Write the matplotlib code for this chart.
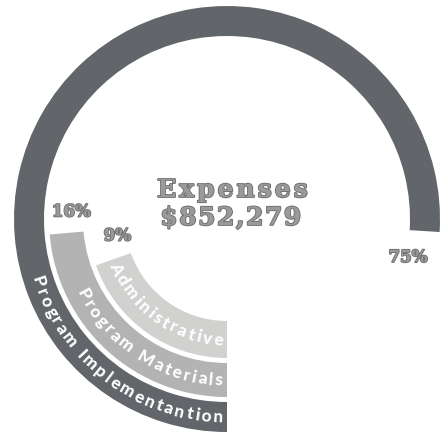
import numpy as np
import matplotlib
matplotlib.use("Agg")
import matplotlib.pyplot as plt
from matplotlib.font_manager import FontProperties, findfont, get_font
from matplotlib import patheffects as pe

# ---------------- data ----------------
categories = ["Program Implementantion", "Program Materials", "Administrative"]
shares = [75, 16, 9]
pct_labels = ["75%", "16%", "9%"]
title_text = "Expenses"
total_text = "$852,279"

# ---------------- design / layout ----------------
sweep_deg = [273.5, 85.0, 70.5]          # drawn sweep of each ring (infographic design)
ring_inner = [183, 144, 102]
ring_outer = [213, 178, 139]
ring_colors = ["#626569", "#b2b3b2", "#d1d1d0"]
label_dtheta = [8.5, 7.6, 10.7]
label_r = [185, 156, 111]

W, H, DPI = 447, 434, 100
CX, CY = 227, 219
RMAX = 220

fig = plt.figure(figsize=(W / DPI, H / DPI), dpi=DPI)
fig.patch.set_facecolor("white")
ax = fig.add_axes([(CX - RMAX) / W, (H - CY - RMAX) / H, 2 * RMAX / W, 2 * RMAX / H],
                  projection="polar")
ax.set_theta_zero_location("S")
ax.set_theta_direction(-1)
ax.set_ylim(0, RMAX)
ax.axis("off")

for sw, ri, ro, col in zip(sweep_deg, ring_inner, ring_outer, ring_colors):
    ax.bar(np.deg2rad(sw / 2), ro - ri, width=np.deg2rad(sw), bottom=ri,
           color=col, edgecolor="none", linewidth=0, align="center")

# ---------------- curved labels ----------------
lab_fp = FontProperties(family="Lato", weight="black", size=12.5)


def advances(s, fp, tracking):
    font = get_font(findfont(fp))
    font.set_size(fp.get_size_in_points(), DPI)
    adv = np.array([font.load_char(ord(c)).linearHoriAdvance / 65536.0 for c in s])
    return adv + tracking


def arc_text(s, r_mid, fp, tracking, end_pad, color):
    adv = advances(s, fp, tracking)
    total = adv.sum() - tracking
    centers = np.cumsum(adv) - adv / 2
    fs_px = fp.get_size_in_points() * DPI / 72
    r_base = r_mid + 0.33 * fs_px
    th_end = end_pad / r_mid
    for ch, c in zip(s, centers):
        th = th_end + (total - c) / r_mid
        ax.text(th, r_base, ch, rotation=-np.degrees(th), rotation_mode="anchor",
                ha="center", va="baseline", color=color, fontproperties=fp)


for cat, ri, ro in zip(categories, ring_inner, ring_outer):
    arc_text(cat, (ri + ro) / 2, lab_fp, 2.0, 5, "white")

# ---------------- slab-serif texts ----------------
effects = [pe.withStroke(linewidth=1.3, foreground="#6f6f6f")]
slab = dict(family="DejaVu Serif", weight="bold", color="#9a9a9a")

for sw, dth, r, txt in zip(sweep_deg, label_dtheta, label_r, pct_labels):
    ax.text(np.deg2rad(sw + dth), r, txt, ha="center", va="center", fontsize=12,
            path_effects=effects, **slab)


def tracked_text(s, x_center, y_base, size, tracking):
    fp = FontProperties(family="DejaVu Serif", weight="bold", size=size)
    adv = advances(s, fp, tracking)
    total = adv.sum() - tracking
    x0 = x_center - total / 2
    centers = np.cumsum(adv) - adv / 2
    for ch, c in zip(s, centers):
        fig.text((x0 + c) / W, 1 - y_base / H, ch, ha="center", va="baseline",
                 fontproperties=fp, color=slab["color"], path_effects=effects)


tracked_text(title_text, 231, 197, 18, 3.0)
tracked_text(total_text, 230, 225, 18, 1.5)

fig.savefig("out.png", dpi=DPI, facecolor="white")
